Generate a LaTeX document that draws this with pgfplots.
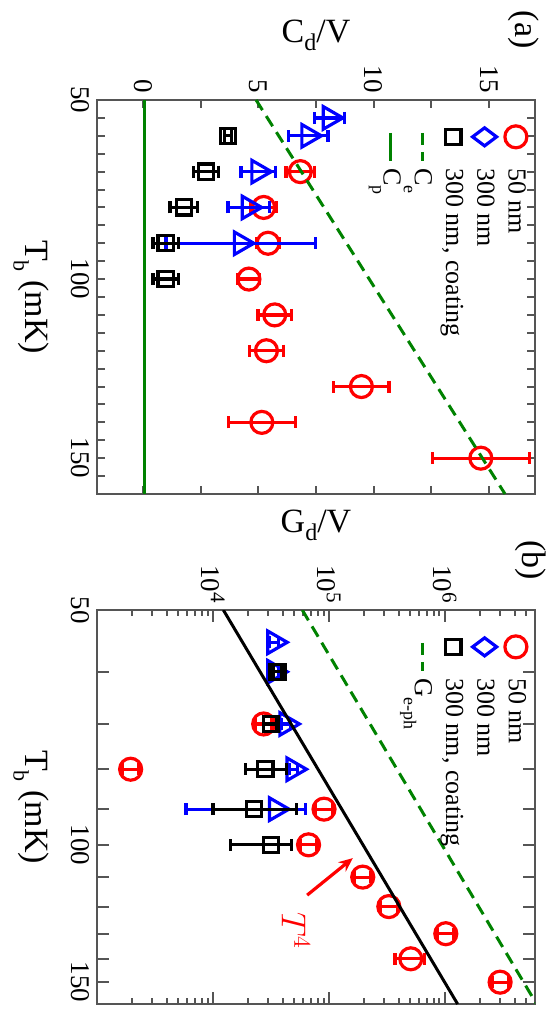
\documentclass[border=0pt]{standalone}
\usepackage{fontspec}
\setmainfont{Liberation Serif}
\usepackage{pgfplots}
\pgfplotsset{compat=1.18}
\usetikzlibrary{arrows.meta}
\definecolor{dgreen}{RGB}{0,130,0}
\definecolor{framegray}{RGB}{85,85,85}
\definecolor{myred}{RGB}{255,0,0}
\definecolor{myblue}{RGB}{0,0,255}
\newcommand{\lsub}[3]{\raisebox{#1}{\fontsize{#2}{#2}\selectfont #3}}

\pgfplotsset{
  myaxis/.style={
    scale only axis, width=197pt, height=219pt,
    axis line style={framegray, line width=1pt},
    tick style={framegray, line width=1pt},
    tick align=inside,
    xmin=50, xmax=160,
    tick label style={font=\fontsize{13.5}{13.5}\selectfont},
    label style={font=\fontsize{17}{17}\selectfont},
    legend style={draw=none, fill=none, font=\fontsize{13}{14}\selectfont,
      at={(0.058,0.985)}, anchor=north west, row sep=3.5pt, inner sep=0pt,
      nodes={inner sep=1pt}},
    legend cell align=left,
    clip mode=individual,
  },
  markleg/.style={legend image code/.code={\draw[##1] plot coordinates {(0pt,0pt)}; \path (-6pt,0pt) (14pt,0pt);}},
  redser/.style={only marks, mark=o, color=myred, mark size=5.5pt, line width=1.6pt, markleg},
  blueser/.style={only marks, mark=triangle, color=myblue, mark size=6.5pt, line width=1.6pt,
    legend image code/.code={\draw[##1, mark=diamond, mark size=6pt] plot coordinates {(0pt,0pt)}; \path (-6pt,0pt) (14pt,0pt);}},
  blackser/.style={only marks, mark=square, color=black, mark size=3.8pt, line width=1.6pt, markleg},
  errs/.style={error bars/.cd, y dir=both, y explicit,
    error bar style={line width=1.6pt}, error mark options={rotate=90, line width=1.6pt, mark size=3pt}},
  lineleg/.style={legend image code/.code={\draw[##1] (-2pt,0pt) -- (12pt,0pt); \path (-6pt,0pt) (14pt,0pt);}},
}

\pgfplotstableread{
T C e
70 6.82 0.62
80 5.23 0.57
90 5.42 0.5
100 4.59 0.47
110 5.71 0.73
120 5.35 0.75
130 9.47 1.2
140 5.15 1.45
150 14.65 2.1
}\aRed
\pgfplotstableread{
T C e
55 8.1 0.65
60 7.17 0.85
70 5.0 0.75
80 4.58 0.9
90 4.24 3.25
}\aBlue
\pgfplotstableread{
T C e
60 3.67 0.15
70 2.73 0.55
80 1.77 0.6
90 0.98 0.55
100 0.98 0.55
}\aBlack

\pgfplotstableread{
T G ep em
70 27400 4900 4100
80 1950 350 290
90 90800 16000 13600
100 66800 12000 10000
110 196000 35000 29000
120 329000 59000 49000
130 1020000 180000 150000
140 509000 155000 137000
150 3000000 520000 440000
}\bRed
\pgfplotstableread{
T G ep em
55 33800 3000 3000
60 33800 3000 3000
70 43000 4000 4000
80 49500 4000 4000
90 35000 27400 29150
}\bBlue
\pgfplotstableread{
T G ep em
60 36000 3000 3000
70 31500 4000 4000
80 28400 14600 9300
90 22700 30000 12700
100 31500 16400 17300
}\bBlack

\begin{document}
\begin{tikzpicture}[rotate=-90, transform shape]
\path[use as bounding box] (0,0) rectangle (507.5pt,275pt);

% ---------------- panel (a)
\begin{axis}[myaxis,
  at={(50pt,48.5pt)}, anchor=south west,
  ymin=-2, ymax=17,
  xtick={50,100,150}, xticklabels={50,100,150},
  minor xtick={55,60,...,160},
  ytick={0,5,10,15}, yticklabels={0,5,10,15},
  minor ytick={2.5,7.5,12.5},
  major tick length=4pt, minor tick length=4pt,
  xlabel={T\lsub{-6pt}{11}{b} (mK)},
  ylabel={C\lsub{-4pt}{12}{d}/V},
  xlabel style={at={(rel axis cs:0.5,-0.15)}, anchor=center},
  ylabel style={at={(rel axis cs:-0.165,0.5)}, anchor=center},
]
\addplot[redser, errs] table[x=T, y=C, y error=e] {\aRed};
\addlegendentry{50 nm}
\addplot[blueser, errs] table[x=T, y=C, y error=e] {\aBlue};
\addlegendentry{300 nm}
\addplot[blackser, errs] table[x=T, y=C, y error=e] {\aBlack};
\addlegendentry{300 nm, coating}
\addplot[dgreen, line width=1.5pt, dash pattern=on 6pt off 3.5pt, lineleg] coordinates {(50,4.9) (160,15.7)};
\addlegendentry{C\lsub{-5.5pt}{9}{e}}
\addplot[dgreen, line width=1.5pt, lineleg] coordinates {(50,0.05) (160,0.05)};
\addlegendentry{C\lsub{-5.5pt}{9}{p}}
\node[font=\fontsize{17}{17}\selectfont] at (rel axis cs:-0.178,0.973) {(a)};
\end{axis}

% ---------------- panel (b)
\begin{axis}[myaxis,
  at={(305pt,48.5pt)}, anchor=south west,
  xmode=log, ymode=log,
  ymin=1000, ymax=6e6,
  xtick={50,60,70,80,90,100,110,120,130,140,150},
  xticklabels={50,,,,,100,,,,,150},
  minor xtick={},
  ytick={1e4,1e5,1e6},
  yticklabels={10\raisebox{0.75ex}{\fontsize{10.5}{10.5}\selectfont 4},10\raisebox{0.75ex}{\fontsize{10.5}{10.5}\selectfont 5},10\raisebox{0.75ex}{\fontsize{10.5}{10.5}\selectfont 6}},
  minor ytick={2000,3000,4000,5000,6000,7000,8000,9000,
    20000,30000,40000,50000,60000,70000,80000,90000,
    200000,300000,400000,500000,600000,700000,800000,900000,
    2000000,3000000,4000000,5000000},
  major tick length=6pt, minor tick length=3pt,
  xlabel={T\lsub{-6pt}{11}{b} (mK)},
  ylabel={G\lsub{-4pt}{12}{d}/V},
  xlabel style={at={(rel axis cs:0.5,-0.15)}, anchor=center},
  ylabel style={at={(rel axis cs:-0.214,0.5)}, anchor=center},
]
\addplot[redser, errs] table[x=T, y=G, y error plus=ep, y error minus=em] {\bRed};
\addlegendentry{50 nm}
\addplot[blueser, errs] table[x=T, y=G, y error plus=ep, y error minus=em] {\bBlue};
\addlegendentry{300 nm}
\addplot[blackser, errs] table[x=T, y=G, y error plus=ep, y error minus=em] {\bBlack};
\addlegendentry{300 nm, coating}
\addplot[dgreen, line width=1.5pt, dash pattern=on 6pt off 3.5pt, lineleg] coordinates {(50,59000) (160,6190000)};
\addlegendentry{G\lsub{-5.5pt}{9}{e-ph}}
\addplot[black, line width=1.5pt, forget plot] coordinates {(50,12300) (160,1290000)};
\draw[-{Stealth[length=7pt,width=6pt]}, myred, line width=1.6pt] (axis cs:116,65000) -- (axis cs:104,161000);
\node[myred, font=\fontsize{18}{18}\selectfont] at (axis cs:129,52000) {$T^4$};
\node[font=\fontsize{17}{17}\selectfont] at (rel axis cs:-0.126,0.99) {(b)};
\end{axis}
\end{tikzpicture}
\end{document}
